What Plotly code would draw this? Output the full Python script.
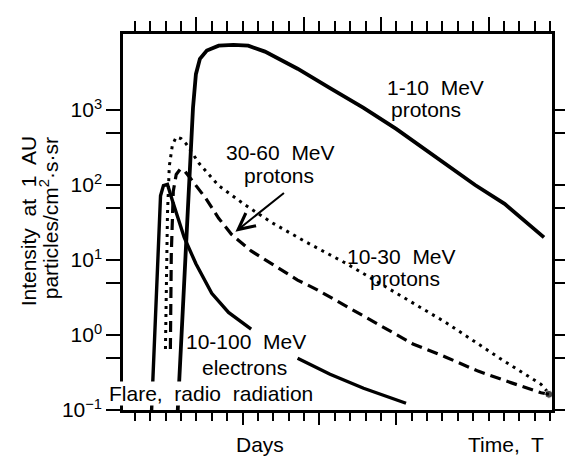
import plotly.graph_objects as go

# ---- data (time in day-tick units, intensity in particles/cm^2 s sr) ----
t_p1_10 = [2.79, 3.78, 3.97, 4.23, 4.68, 5.45, 6.41, 7.37, 8.46, 10.58, 12.69, 14.87, 16.99, 19.55, 22.12, 24.04, 26.6]
i_p1_10 = [0.1, 1070, 3000, 4800, 6200, 7200, 7400, 7200, 6000, 3550, 1950, 1070, 560, 240, 100, 56, 20]

t_p10_30 = [1.99, 2.12, 2.24, 2.44, 2.69, 3.01, 3.33, 4.17, 5.45, 7.18, 8.85, 11.03, 13.78, 16.99, 20.19, 23.72, 26.41, 26.92]
i_p10_30 = [0.65, 40, 178, 340, 435, 415, 355, 195, 98, 54, 32, 17.8, 8.9, 3.6, 1.48, 0.49, 0.22, 0.166]

t_p30_60 = [2.31, 2.37, 2.5, 2.69, 2.95, 3.27, 3.65, 4.62, 5.45, 6.28, 7.56, 8.85, 10.58, 11.86, 15.06, 18.08, 20.19, 22.31, 24.49, 26.41, 26.92]
i_p30_60 = [0.65, 12, 83, 138, 162, 151, 120, 66, 36, 22, 13.2, 8.9, 5.4, 4.0, 1.7, 0.76, 0.51, 0.33, 0.23, 0.17, 0.162]

t_e = [1.09, 1.67, 1.86, 2.12, 2.44, 3.21, 3.97, 5.0, 6.09, 7.56, None, 10.58, 12.69, 14.87, 17.63]
i_e = [0.1, 72, 98, 102, 62, 20, 8.9, 3.6, 2.0, 1.2, None, 0.49, 0.30, 0.195, 0.123]

ytick_vals = [0.1, 1, 10, 100, 1000]
ytick_text = ["10<sup>\u22121</sup>", "10<sup>0</sup>", "10<sup>1</sup>", "10<sup>2</sup>", "10<sup>3</sup>"]
yminor_vals = [0.5, 5, 50, 500]
bottom_long_ticks = [7, 12, 17]
top_long_ticks = [4, 11, 16, 23]

FONT = "Liberation Sans, Arial, Helvetica, sans-serif"
FS = 21
BLK = "black"

fig = go.Figure()
fig.add_trace(go.Scatter(x=t_p1_10, y=i_p1_10, mode="lines", xaxis="x2",
                         line=dict(color=BLK, width=3.8), hoverinfo="skip"))
fig.add_trace(go.Scatter(x=t_p10_30, y=i_p10_30, mode="lines",
                         line=dict(color=BLK, width=3, dash="3px,5px"), hoverinfo="skip"))
fig.add_trace(go.Scatter(x=t_p30_60, y=i_p30_60, mode="lines+markers",
                         marker=dict(color=BLK, size=[0] * (len(t_p30_60) - 1) + [8]),
                         line=dict(color=BLK, width=3.2, dash="11px,6px"), hoverinfo="skip"))
fig.add_trace(go.Scatter(x=t_e, y=i_e, mode="lines", connectgaps=False,
                         line=dict(color=BLK, width=3.4), hoverinfo="skip"))

xr = [-0.77, 27.12]
fig.update_layout(
    width=573, height=457,
    margin=dict(l=115, r=23, t=16, b=55),
    paper_bgcolor="white", plot_bgcolor="white",
    showlegend=False,
    font=dict(family=FONT, size=FS, color=BLK),
    xaxis=dict(range=xr, showgrid=False, zeroline=False, showline=True, linecolor=BLK, linewidth=2.5,
               ticks="outside", tickmode="array", tickvals=bottom_long_ticks, ticklen=12, tickwidth=2,
               tickcolor=BLK, showticklabels=False,
               minor=dict(ticks="outside", tick0=0, dtick=1, ticklen=8, tickwidth=2, tickcolor=BLK, showgrid=False)),
    xaxis2=dict(range=xr, matches="x", overlaying="x", side="top", showgrid=False, zeroline=False,
                showline=True, linecolor=BLK, linewidth=2.5,
                ticks="outside", tickmode="array", tickvals=top_long_ticks, ticklen=14, tickwidth=2,
                tickcolor=BLK, showticklabels=False,
                minor=dict(ticks="outside", tick0=0, dtick=1, ticklen=10, tickwidth=2, tickcolor=BLK, showgrid=False)),
    yaxis=dict(type="log", range=[-1, 4.013], showgrid=False, zeroline=False, showline=True,
               linecolor=BLK, linewidth=2.5, mirror="ticks",
               ticks="outside", tickmode="array", tickvals=ytick_vals, ticktext=ytick_text,
               ticklen=14, tickwidth=2, tickcolor=BLK, tickfont=dict(size=FS),
               minor=dict(ticks="outside", tickmode="array", tickvals=yminor_vals, ticklen=14, tickwidth=2,
                          tickcolor=BLK, showgrid=False)),
)

ann = []
def label(text, x, y, ref="data", **kw):
    d = dict(text=text, x=x, y=y, showarrow=False, xanchor="center", yanchor="middle",
             font=dict(family=FONT, size=FS, color=BLK), align="center")
    if ref == "data":
        d.update(xref="x", yref="y")
    else:
        d.update(xref="paper", yref="paper")
    d.update(kw)
    ann.append(d)

sp = "\u00a0 "
label("1-10" + sp + "MeV", 19.55, 3.30)
label("protons", 18.9, 3.0)
label("30-60" + sp + "MeV", 9.49, 2.43)
label("protons", 9.35, 2.12)
label("10-30" + sp + "MeV", 17.31, 1.04)
label("protons", 17.55, 0.75)
label("10-100" + sp + "MeV", 7.24, -0.08)
label("electrons", 7.12, -0.43)
label("Flare," + sp + "radio" + sp + "radiation", 4.95, -0.78, bgcolor="white", borderpad=0)
label("Days", 0.3195, -0.0907, ref="paper")
label("Time," + sp + "T", 0.892, -0.0907, ref="paper")
label("Intensity" + sp + "at" + sp + "1" + sp + "AU", -0.2207, 0.5026, ref="paper", textangle=-90)
label("particles/cm<sup>2</sup>\u00b7s\u00b7sr", -0.1724, 0.51, ref="paper", textangle=-90)
# arrow from the 30-60 MeV label down to its curve
ann.append(dict(text="", x=6.54, y=1.377, xref="x", yref="y", showarrow=True,
                ax=50, ay=-40, arrowhead=5, arrowsize=1.6, arrowwidth=2, arrowcolor=BLK))
fig.update_layout(annotations=ann)

fig.write_html("out.html")
